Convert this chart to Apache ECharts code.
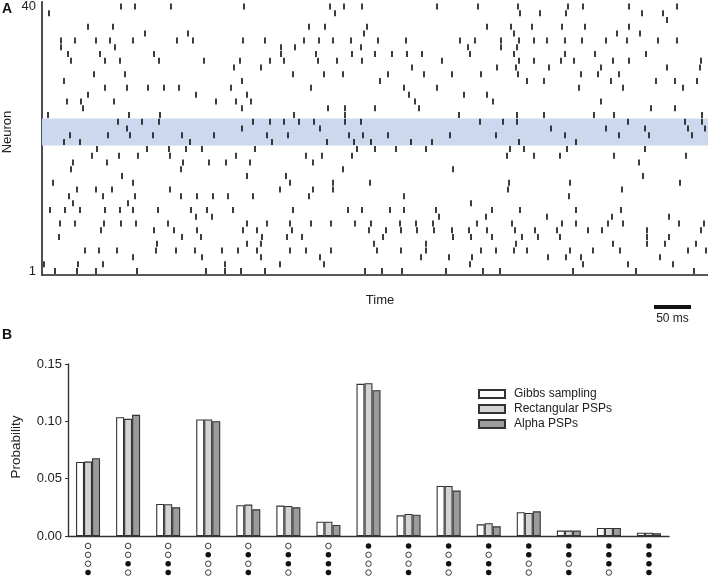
<!DOCTYPE html>
<html><head><meta charset="utf-8">
<script src="https://cdn.jsdelivr.net/npm/echarts@6/dist/echarts.min.js"></script>
<style>html,body{margin:0;padding:0;background:#fff}#c{width:708px;height:577px}</style>
</head><body><div id="c"></div><script>
// ---- Panel A: spike raster (index 0 = neuron 1 ... index 39 = neuron 40), time in raster units
const spikeTrains = [
  [55, 77, 96, 137, 206, 225, 241, 265, 365, 382, 402, 446, 483, 500, 573, 636, 694],
  [44, 78, 103, 225, 280, 324, 470, 583, 628, 673],
  [133, 202, 261, 320, 421, 449, 472, 548, 566, 581, 660],
  [85, 99, 117, 156, 176, 195, 222, 238, 257, 290, 306, 331, 377, 401, 426, 481, 496, 514, 527, 570, 593, 620, 688, 706],
  [157, 247, 261, 374, 426, 516, 613, 647, 665, 696],
  [59, 182, 201, 262, 287, 302, 383, 453, 471, 492, 522, 538, 560, 647, 669],
  [101, 154, 174, 197, 243, 257, 292, 369, 386, 401, 417, 434, 452, 469, 487, 515, 535, 557, 588, 602, 647, 701],
  [60, 75, 104, 121, 136, 168, 247, 267, 290, 311, 331, 355, 371, 400, 416, 433, 477, 512, 562, 576, 608, 623, 679, 704],
  [196, 212, 439, 486, 547, 612, 669],
  [50, 65, 80, 105, 120, 133, 158, 191, 207, 233, 293, 348, 362, 390, 404, 436, 492, 520, 576, 621],
  [73, 128, 471],
  [69, 103, 135, 181, 197, 213, 228, 253, 309, 404, 569],
  [77, 96, 112, 170, 280, 313, 333, 508, 622],
  [53, 133, 290, 333, 370, 509, 570, 680],
  [122, 247, 286, 643],
  [71, 181, 343, 453],
  [73, 107, 183, 209, 226, 250, 313, 639],
  [92, 119, 138, 170, 236, 306, 322, 352, 507, 534, 560, 614, 686],
  [97, 147, 169, 186, 202, 255, 357, 375, 396, 426, 510, 524, 567, 645],
  [64, 80, 190, 272, 327, 354, 371, 411, 432, 519, 576],
  [70, 108, 130, 153, 182, 214, 267, 288, 349, 363, 388, 450, 496, 565, 619, 649, 692],
  [127, 242, 320, 551, 606, 645, 688, 705],
  [118, 142, 159, 253, 270, 284, 299, 314, 345, 361, 480, 503, 517, 628, 685, 702],
  [48, 129, 160, 294, 345, 459, 517, 544, 594, 614, 702],
  [83, 242, 328, 345, 375, 419, 651, 675],
  [67, 81, 114, 216, 236, 251, 415, 493, 601],
  [88, 196, 247, 409, 464, 487],
  [105, 127, 148, 164, 179, 231, 311, 404, 437, 579, 623, 683],
  [64, 242, 380, 527, 544, 611, 656, 675, 697],
  [94, 125, 293, 324, 343, 388, 424, 452, 481, 518, 581, 598, 619],
  [234, 261, 412, 497, 516, 549, 601, 667, 700],
  [71, 105, 120, 159, 204, 240, 270, 284, 318, 337, 362, 442, 519, 534, 561, 574, 613, 629, 701],
  [68, 100, 154, 281, 316, 352, 375, 392, 407, 422, 470, 514, 565, 595, 646],
  [61, 115, 281, 295, 361, 468, 501, 517],
  [61, 75, 96, 110, 133, 177, 193, 243, 265, 304, 319, 333, 351, 378, 406, 460, 475, 501, 519, 534, 547, 565, 582, 606, 627, 658, 677],
  [145, 188, 364, 514, 617, 640],
  [88, 113, 309, 325, 367, 487, 511, 532, 562, 585, 629],
  [667],
  [49, 335, 520, 540, 566, 642, 663],
  [121, 135, 171, 244, 330, 344, 362, 437, 478, 518, 568, 583, 629, 677]
];
const timeRange = [42, 708];
const neuronTickLabels = [1, 40];
const highlightedNeurons = [20, 23];
const scaleBar = [654, 691];
const scaleBarLabel = '50 ms';

// ---- Panel B: state probabilities
const states = ['0001','0010','0011','0100','0101','0110','0111','1000','1001','1010','1011','1100','1101','1110','1111'];
const seriesNames = ['Gibbs sampling', 'Rectangular PSPs', 'Alpha PSPs'];
const gibbs = [0.0646, 0.1036, 0.0279, 0.1016, 0.0268, 0.0265, 0.0125, 0.1327, 0.0180, 0.0437, 0.0102, 0.0207, 0.0047, 0.0070, 0.0029];
const rectPSP = [0.0649, 0.1022, 0.0277, 0.1016, 0.0274, 0.0262, 0.0125, 0.1333, 0.0192, 0.0437, 0.0111, 0.0201, 0.0047, 0.0070, 0.0029];
const alphaPSP = [0.0678, 0.1057, 0.0250, 0.1001, 0.0233, 0.0250, 0.0096, 0.1272, 0.0186, 0.0396, 0.0084, 0.0215, 0.0047, 0.0070, 0.0023];
const probTicks = { min: 0, max: 0.15, interval: 0.05 };

// ---- build
const FONT = 'Liberation Sans, Arial, sans-serif';
const TXT = '#222';
const spikeData = [];
spikeTrains.forEach((train, i) => train.forEach(t => spikeData.push([t, i + 1])));
const onDots = [], offDots = [];
states.forEach((s, i) => s.split('').forEach((b, r) => (b === '1' ? onDots : offDots).push([i, r])));
const barColors = ['#ffffff', '#d3d3d3', '#9b9b9b'];
const barData = [gibbs, rectPSP, alphaPSP];

const chart = echarts.init(document.getElementById('c'), null, { renderer: 'canvas' });
chart.setOption({
  animation: false,
  textStyle: { fontFamily: FONT },
  grid: [
    { left: 42, right: 0, top: 0, height: 275 },
    { left: 42, right: 0, top: 305, height: 4 },
    { left: 68, right: 39, top: 364, height: 172 },
    { left: 68, right: 39, top: 541.5, height: 36 }
  ],
  xAxis: [
    { type: 'value', gridIndex: 0, min: timeRange[0], max: timeRange[1],
      axisLine: { show: true, onZero: false, lineStyle: { color: '#222', width: 1.6 } },
      axisTick: { show: false }, axisLabel: { show: false }, splitLine: { show: false } },
    { type: 'value', gridIndex: 1, min: timeRange[0], max: timeRange[1], show: false },
    { type: 'category', gridIndex: 2, data: states,
      axisLine: { show: true, lineStyle: { color: '#333', width: 1.4 } },
      axisTick: { show: false }, axisLabel: { show: false } },
    { type: 'category', gridIndex: 3, data: states, show: false }
  ],
  yAxis: [
    { type: 'value', gridIndex: 0, min: 0.4, max: 40.7,
      axisLine: { show: true, onZero: false, lineStyle: { color: '#222', width: 1.6 } },
      axisTick: { show: false }, splitLine: { show: false },
      axisLabel: { customValues: neuronTickLabels, fontSize: 13, color: TXT, margin: 6, fontFamily: FONT } },
    { type: 'value', gridIndex: 1, min: -1, max: 1, show: false },
    { type: 'value', gridIndex: 2, min: probTicks.min, max: probTicks.max, interval: probTicks.interval,
      axisLine: { show: true, lineStyle: { color: '#333', width: 1.4 } },
      axisTick: { show: true, length: 3, lineStyle: { color: '#333' } }, splitLine: { show: false },
      axisLabel: { formatter: v => v.toFixed(2), fontSize: 13, color: TXT, margin: 6, fontFamily: FONT } },
    { type: 'value', gridIndex: 3, min: -0.5, max: 3.5, inverse: true, show: false }
  ],
  legend: {
    data: seriesNames, orient: 'vertical', left: 473, top: 383,
    itemWidth: 26, itemHeight: 8, itemGap: 3, icon: 'rect',
    textStyle: { fontSize: 12, color: TXT, fontFamily: FONT, padding: [0, 0, 0, 4] }
  },
  series: [
    { type: 'scatter', xAxisIndex: 0, yAxisIndex: 0, data: [], z: 1, silent: true,
      markArea: { silent: true, itemStyle: { color: '#ccd8ee' },
        data: [[{ yAxis: highlightedNeurons[0] - 0.5 }, { yAxis: highlightedNeurons[1] + 0.5 }]] } },
    { type: 'scatter', xAxisIndex: 0, yAxisIndex: 0, data: spikeData, z: 3,
      symbol: 'rect', symbolSize: [1.7, 6], itemStyle: { color: '#1a1a1a', opacity: 1 } },
    { type: 'line', xAxisIndex: 1, yAxisIndex: 1, data: [[scaleBar[0], 0], [scaleBar[1], 0]],
      symbol: 'none', lineStyle: { width: 4, color: '#111' } },
    ...seriesNames.map((n, k) => ({
      name: n, type: 'bar', xAxisIndex: 2, yAxisIndex: 2, data: barData[k],
      barWidth: 8, barGap: '0%',
      itemStyle: { color: barColors[k], borderColor: '#333', borderWidth: 1.1 }
    })),
    { type: 'scatter', xAxisIndex: 3, yAxisIndex: 3, data: onDots, symbol: 'circle', symbolSize: 5.5,
      itemStyle: { color: '#111', opacity: 1 } },
    { type: 'scatter', xAxisIndex: 3, yAxisIndex: 3, data: offDots, symbol: 'circle', symbolSize: 5.5,
      itemStyle: { color: '#fff', borderColor: '#222', borderWidth: 0.9, opacity: 1 } }
  ],
  graphic: [
    { type: 'text', x: 7, y: 9.5, style: { text: 'A', fontSize: 14, fontWeight: 'bold', fontFamily: FONT, fill: '#111', align: 'center', verticalAlign: 'middle' } },
    { type: 'text', x: 7, y: 335.5, style: { text: 'B', fontSize: 14, fontWeight: 'bold', fontFamily: FONT, fill: '#111', align: 'center', verticalAlign: 'middle' } },
    { type: 'text', x: 7, y: 132, rotation: Math.PI / 2, style: { text: 'Neuron', fontSize: 13, fontFamily: FONT, fill: TXT, align: 'center', verticalAlign: 'middle' } },
    { type: 'text', x: 380, y: 300.5, style: { text: 'Time', fontSize: 13, fontFamily: FONT, fill: TXT, align: 'center', verticalAlign: 'middle' } },
    { type: 'text', x: 672.5, y: 319, style: { text: scaleBarLabel, fontSize: 12, fontFamily: FONT, fill: TXT, align: 'center', verticalAlign: 'middle' } },
    { type: 'text', x: 16, y: 447, rotation: Math.PI / 2, style: { text: 'Probability', fontSize: 13.5, fontFamily: FONT, fill: TXT, align: 'center', verticalAlign: 'middle' } }
  ]
});
</script></body></html>
